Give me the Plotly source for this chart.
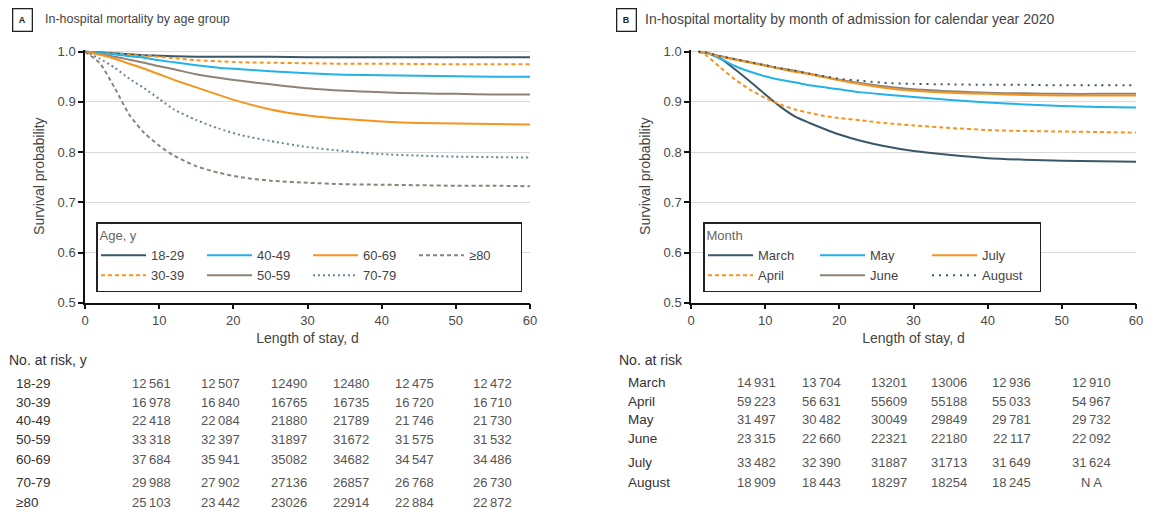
import plotly.graph_objects as go

# The page body has an 8px default margin, so the figure is made 8px smaller and
# every reference pixel position is shifted by that offset.
OFF = 8
W, H = 1170 - OFF, 514 - OFF
FONT = "Liberation Sans, Arial, Helvetica, sans-serif"


def px(x):
    return (x - OFF) / W


def py(y):
    return 1 - (y - OFF) / H


# ---------------- Panel A data: survival by age group ----------------
days_a = [0, 2, 4, 6, 8, 10, 12, 15, 18, 21, 25, 30, 35, 40, 45, 50, 55, 60]
age_groups = ["18-29", "30-39", "40-49", "50-59", "60-69", "70-79", "≥80"]
surv_18_29 = [1.0, 0.999, 0.997, 0.995, 0.993, 0.992, 0.991, 0.990, 0.990, 0.990, 0.990, 0.989, 0.989, 0.989, 0.989, 0.989, 0.989, 0.989]
surv_30_39 = [1.0, 0.998, 0.996, 0.994, 0.992, 0.990, 0.987, 0.983, 0.981, 0.979, 0.978, 0.977, 0.976, 0.976, 0.9755, 0.975, 0.975, 0.975]
surv_40_49 = [1.0, 0.998, 0.995, 0.991, 0.988, 0.983, 0.979, 0.973, 0.968, 0.965, 0.961, 0.957, 0.954, 0.953, 0.952, 0.951, 0.950, 0.950]
surv_50_59 = [1.0, 0.995, 0.990, 0.984, 0.978, 0.971, 0.965, 0.955, 0.948, 0.942, 0.935, 0.927, 0.922, 0.919, 0.917, 0.916, 0.915, 0.915]
surv_60_69 = [1.0, 0.994, 0.986, 0.976, 0.966, 0.955, 0.944, 0.929, 0.914, 0.900, 0.885, 0.873, 0.866, 0.861, 0.858, 0.857, 0.856, 0.855]
surv_70_79 = [1.0, 0.986, 0.968, 0.946, 0.927, 0.906, 0.885, 0.864, 0.847, 0.834, 0.822, 0.810, 0.802, 0.796, 0.793, 0.791, 0.790, 0.789]
surv_80_up = [1.0, 0.977, 0.928, 0.874, 0.838, 0.813, 0.793, 0.772, 0.759, 0.750, 0.743, 0.739, 0.736, 0.735, 0.734, 0.733, 0.733, 0.732]
series_a = [surv_18_29, surv_30_39, surv_40_49, surv_50_59, surv_60_69, surv_70_79, surv_80_up]

# ---------------- Panel B data: survival by month of admission ----------------
days_b = [1, 2, 4, 6, 8, 10, 12, 14, 16, 18, 20, 23, 26, 30, 35, 40, 45, 50, 55, 60]
months = ["March", "April", "May", "June", "July", "August"]
surv_march = [1.0, 0.999, 0.986, 0.964, 0.940, 0.915, 0.891, 0.871, 0.858, 0.846, 0.835, 0.822, 0.812, 0.802, 0.794, 0.788, 0.785, 0.783, 0.782, 0.781]
surv_april = [1.0, 0.993, 0.968, 0.944, 0.924, 0.908, 0.895, 0.885, 0.878, 0.872, 0.868, 0.863, 0.858, 0.853, 0.848, 0.844, 0.842, 0.841, 0.840, 0.839]
surv_may = [1.0, 0.998, 0.986, 0.971, 0.960, 0.951, 0.944, 0.939, 0.933, 0.929, 0.925, 0.919, 0.915, 0.910, 0.904, 0.899, 0.895, 0.892, 0.890, 0.889]
surv_june = [1.0, 0.998, 0.991, 0.985, 0.979, 0.973, 0.967, 0.962, 0.956, 0.950, 0.944, 0.937, 0.931, 0.925, 0.921, 0.918, 0.917, 0.916, 0.916, 0.916]
surv_july = [1.0, 0.998, 0.990, 0.984, 0.978, 0.972, 0.966, 0.960, 0.955, 0.949, 0.943, 0.935, 0.928, 0.922, 0.918, 0.916, 0.914, 0.913, 0.913, 0.913]
surv_august = [1.0, 0.998, 0.991, 0.985, 0.979, 0.973, 0.967, 0.962, 0.956, 0.951, 0.946, 0.942, 0.938, 0.936, 0.935, 0.934, 0.934, 0.933, 0.933, 0.933]
series_b = [surv_march, surv_april, surv_may, surv_june, surv_july, surv_august]

# ---------------- Number at risk tables ----------------
risk_a = [
    [12561, 12507, 12490, 12480, 12475, 12472],
    [16978, 16840, 16765, 16735, 16720, 16710],
    [22418, 22084, 21880, 21789, 21746, 21730],
    [33318, 32397, 31897, 31672, 31575, 31532],
    [37684, 35941, 35082, 34682, 34547, 34486],
    [29988, 27902, 27136, 26857, 26768, 26730],
    [25103, 23442, 23026, 22914, 22884, 22872],
]
risk_b = [
    [14931, 13704, 13201, 13006, 12936, 12910],
    [59223, 56631, 55609, 55188, 55033, 54967],
    [31497, 30482, 30049, 29849, 29781, 29732],
    [23315, 22660, 22321, 22180, 22117, 22092],
    [33482, 32390, 31887, 31713, 31649, 31624],
    [18909, 18443, 18297, 18254, 18245, None],
]
x_ticks = [0, 10, 20, 30, 40, 50, 60]
y_ticks = [0.5, 0.6, 0.7, 0.8, 0.9, 1.0]
y_ticktext = ["0.5", "0.6", "0.7", "0.8", "0.9", "1.0"]

# ---------------- Styles ----------------
SLATE = "#3b5768"
SKY = "#22b2e8"
ORANGE = "#f7941d"
TAUPE = "#8d8379"
DOTS = "#6a8797"
style_a = [
    (SLATE, "solid", "a1"), (ORANGE, "4px,3px", "a1"),
    (SKY, "solid", "a2"), (TAUPE, "solid", "a2"),
    (ORANGE, "solid", "a3"), (DOTS, "2px,3px", "a3"),
    (TAUPE, "4px,3px", "a4"),
]
style_b = [
    (SLATE, "solid", "b1"), (ORANGE, "4px,3px", "b1"),
    (SKY, "solid", "b2"), (TAUPE, "solid", "b2"),
    (ORANGE, "solid", "b3"), (SLATE, "2px,5px", "b3"),
]

fig = go.Figure()
for name, vals, (col, dash, grp) in zip(age_groups, series_a, style_a):
    fig.add_trace(go.Scatter(
        x=days_a, y=vals, mode="lines", name=name, legend="legend", legendgroup=grp,
        line=dict(color=col, width=2, dash=dash, shape="spline", smoothing=0.7),
        xaxis="x", yaxis="y", hoverinfo="skip"))
for name, vals, (col, dash, grp) in zip(months, series_b, style_b):
    fig.add_trace(go.Scatter(
        x=days_b, y=vals, mode="lines", name=name, legend="legend2", legendgroup=grp,
        line=dict(color=col, width=2, dash=dash, shape="spline", smoothing=0.7),
        xaxis="x2", yaxis="y2", hoverinfo="skip"))

tickfont = dict(family=FONT, size=13, color="#4a4a4a")
titlefont = dict(family=FONT, size=14, color="#444")
ax_common = dict(showline=True, linecolor="#111", linewidth=1.5, ticks="outside", ticklen=5,
                 tickcolor="#111", tickwidth=1.5, tickfont=tickfont, zeroline=False)
ydom = [py(302.7), py(49.7)]

fig.update_layout(
    width=W, height=H, plot_bgcolor="white", paper_bgcolor="white",
    margin=dict(l=0, r=0, t=0, b=0, autoexpand=False),
    font=dict(family=FONT, color="#444"),
    xaxis=dict(domain=[px(85), px(530)], range=[0, 60], tickvals=x_ticks, showgrid=False, anchor="y",
               title=dict(text="Length of stay, d", font=titlefont, standoff=6), **ax_common),
    yaxis=dict(domain=ydom, range=[0.5, 1.004], tickvals=y_ticks, ticktext=y_ticktext, showgrid=True,
               gridcolor="#d9d9d9", gridwidth=1, anchor="x",
               title=dict(text="Survival probability", font=titlefont, standoff=10), **ax_common),
    xaxis2=dict(domain=[px(691), px(1136)], range=[0, 60], tickvals=x_ticks, showgrid=False, anchor="y2",
                title=dict(text="Length of stay, d", font=titlefont, standoff=6), **ax_common),
    yaxis2=dict(domain=ydom, range=[0.5, 1.004], tickvals=y_ticks, ticktext=y_ticktext, showgrid=True,
                gridcolor="#d9d9d9", gridwidth=1, anchor="x2",
                title=dict(text="Survival probability", font=titlefont, standoff=10), **ax_common),
)

legend_common = dict(xanchor="left", yanchor="top", orientation="h", traceorder="grouped",
                     tracegroupgap=0, itemwidth=45, bgcolor="white", bordercolor="#222",
                     borderwidth=1.5, font=dict(family=FONT, size=13, color="#444"),
                     itemclick=False, itemdoubleclick=False)
fig.update_layout(
    legend=dict(x=px(96), y=py(222), entrywidth=46,
                title=dict(text="Age, y", side="top", font=dict(family=FONT, size=13, color="#666")),
                **legend_common),
    legend2=dict(x=px(703), y=py(222), entrywidth=52,
                 title=dict(text="Month", side="top", font=dict(family=FONT, size=13, color="#666")),
                 **legend_common),
)

ann = []
# panel labels and titles
for lab, cx, tx, txt, fs in [("A", 22, 43, "In-hospital mortality by age group", 12.5),
                             ("B", 626.5, 643, "In-hospital mortality by month of admission for calendar year 2020", 14)]:
    ann.append(dict(text="<b>%s</b>" % lab, x=px(cx), y=py(20), xref="paper", yref="paper",
                    showarrow=False, font=dict(family=FONT, size=9, color="#222"),
                    bordercolor="#222", borderwidth=1.3, borderpad=1, width=16, height=19,
                    xanchor="center", yanchor="middle"))
    ann.append(dict(text=txt, x=px(tx), y=py(19.5), xref="paper", yref="paper", showarrow=False,
                    font=dict(family=FONT, size=fs, color="#444"), xanchor="left", yanchor="middle"))


def fmt(v, spaced):
    if v is None:
        return "N A"
    s = str(v)
    return s[:-3] + "\u2009" + s[-3:] if spaced else s


spaced_cols = [True, True, False, False, True, True]
tables = [
    ("No. at risk, y", 7, 14, age_groups, risk_a, [151, 221, 289, 351, 414, 492.5],
     [383, 402, 420, 439, 459, 482, 502]),
    ("No. at risk", 617, 626, months, risk_b, [756, 821, 888.5, 948.5, 1011.5, 1091],
     [382, 401, 419, 438, 462, 482]),
]
for head, hx, lx, labels, rows, colx, rowy in tables:
    ann.append(dict(text=head, x=px(hx), y=py(360), xref="paper", yref="paper", showarrow=False,
                    font=dict(family=FONT, size=14, color="#333"), xanchor="left", yanchor="middle"))
    for lab, row, ry in zip(labels, rows, rowy):
        ann.append(dict(text=lab, x=px(lx), y=py(ry), xref="paper", yref="paper", showarrow=False,
                        font=dict(family=FONT, size=13.5, color="#333"), xanchor="left", yanchor="middle"))
        for v, cx, sp in zip(row, colx, spaced_cols):
            ann.append(dict(text=fmt(v, sp), x=px(cx), y=py(ry), xref="paper", yref="paper",
                            showarrow=False, font=dict(family=FONT, size=13, color="#555"),
                            xanchor="center", yanchor="middle"))

fig.update_layout(annotations=ann)
fig.write_html("out.html")
